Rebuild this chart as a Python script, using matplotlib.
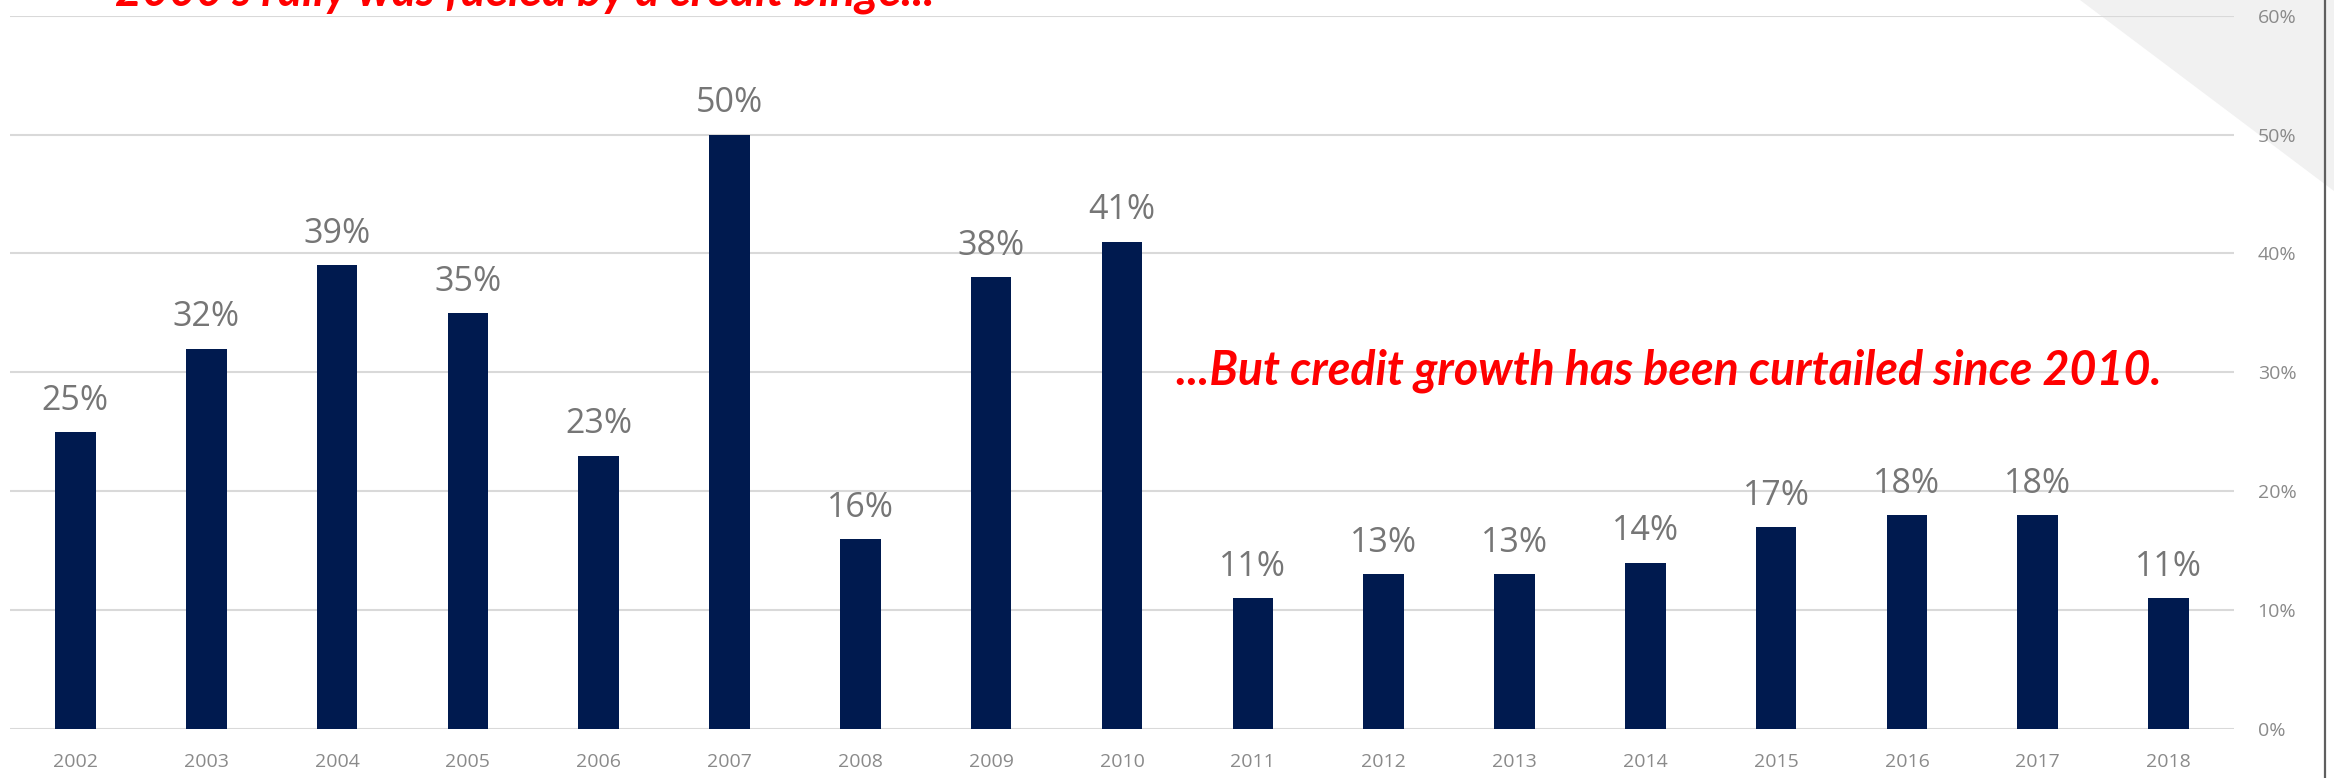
import matplotlib

matplotlib.use("Agg")
import matplotlib.pyplot as plt
from matplotlib.lines import Line2D
from matplotlib.patches import Polygon
from matplotlib.ticker import FuncFormatter

years = [str(y) for y in range(2002, 2019)]
credit_growth = [25, 32, 39, 35, 23, 50, 16, 38, 41, 11, 13, 13, 14, 17, 18, 18, 11]
y_ticks = [0, 10, 20, 30, 40, 50, 60]

note_early = "2000's rally was fueled by a credit binge..."
note_late = "...But credit growth has been curtailed since 2010."

BAR = "#001a4f"
GRID = "#d9d9d9"
LABEL = "#767676"
TICK = "#8a8a8a"
RED = "#ff0000"

W, H = 2334, 778
plt.rcParams["font.family"] = ["Open Sans", "DejaVu Sans"]

fig = plt.figure(figsize=(W / 100, H / 100), dpi=100)
fig.patch.set_facecolor("white")

# shaded corner and frame edge on the right, kept behind the axes
fig.patches.append(
    Polygon([(2080 / W, 1), (1, 1), (1, 1 - 191 / H)], closed=True,
            transform=fig.transFigure, facecolor="#f1f1f1", edgecolor="none", zorder=-5)
)
fig.lines.append(
    Line2D([2325 / W, 2325 / W], [0, 1], transform=fig.transFigure,
           color="#5f5f5f", lw=1.6, zorder=5)
)

ax = fig.add_axes([10 / W, (H - 729) / H, (2234 - 10) / W, (729 - 15.7) / H])
ax.set_facecolor("none")

x = list(range(len(years)))
bars = ax.bar(x, credit_growth, width=0.31, color=BAR, zorder=3)

for xi, v in zip(x, credit_growth):
    ax.annotate(f"{v}%", (xi, v), xytext=(0, 16), textcoords="offset points",
                ha="center", va="baseline", fontsize=24.5, color=LABEL, zorder=4)

ax.set_xlim(-0.5, len(years) - 0.5)
ax.set_ylim(0, 60)
ax.set_yticks(y_ticks)
ax.yaxis.set_major_formatter(FuncFormatter(lambda v, _: f"{v:.0f}%"))
ax.yaxis.tick_right()
ax.set_xticks(x)
ax.set_xticklabels(years)
ax.tick_params(axis="y", length=0, pad=17, labelsize=14, labelcolor=TICK)
ax.tick_params(axis="x", length=0, pad=17, labelsize=14, labelcolor=TICK)
ax.grid(axis="y", color=GRID, lw=1.5, zorder=0)
for side in ax.spines.values():
    side.set_visible(False)

red_font = dict(family=["Lato", "DejaVu Sans"], weight="bold", style="italic",
                color=RED, fontsize=33.5, va="baseline", ha="left")
fig.text(115 / W, (H - 6) / H, note_early, **red_font)
fig.text(1176 / W, (H - 385) / H, note_late, **red_font)

fig.savefig("out.png", dpi=100)
